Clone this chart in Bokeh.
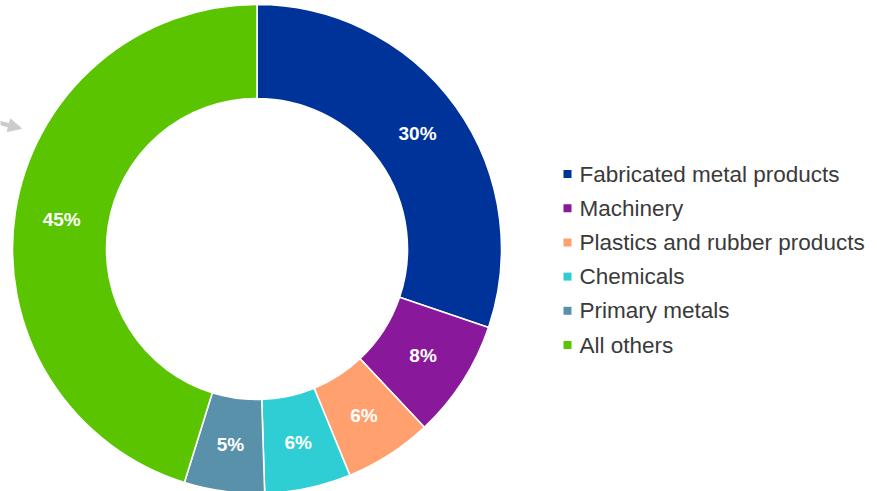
import math
from bokeh.plotting import figure
from bokeh.models import Range1d, ColumnDataSource, Arrow, NormalHead
from bokeh.core.properties import value
from bokeh.embed import file_html
from bokeh.resources import INLINE

categories = ["Fabricated metal products", "Machinery", "Plastics and rubber products",
              "Chemicals", "Primary metals", "All others"]
shares = [30.2, 7.8, 5.8, 5.7, 5.3, 45.2]
labels = ["30%", "8%", "6%", "6%", "5%", "45%"]
colors = ["#003399", "#89189B", "#FFA06E", "#2ECED4", "#5991AA", "#5BC400"]

W, H = 877, 491
p = figure(width=W, height=H, output_backend="svg", toolbar_location=None,
           x_range=Range1d(0, W), y_range=Range1d(0, H), min_border=0)
p.axis.visible = False
p.grid.visible = False
p.outline_line_color = None
p.background_fill_color = "white"

# canvas coords: y measured upward from bottom of canvas
cx, cy = 256.5, H - 248.5
r_in, r_out = 150.5, 244.5

total = sum(shares)
starts, ends, lx, ly = [], [], [], []
cum = 0.0
for s in shares:
    a0 = math.pi / 2 - 2 * math.pi * cum / total
    cum += s
    a1 = math.pi / 2 - 2 * math.pi * cum / total
    starts.append(a0)
    ends.append(a1)
    mid = (a0 + a1) / 2
    rm = (r_in + r_out) / 2
    lx.append(cx + rm * math.cos(mid))
    ly.append(cy + rm * math.sin(mid))

src = ColumnDataSource(dict(start=starts, end=ends, color=colors, lx=lx, ly=ly, label=labels))
p.annular_wedge(x=cx, y=cy, inner_radius=r_in, outer_radius=r_out,
                start_angle="start", end_angle="end", direction="clock",
                fill_color="color", line_color="white", line_width=1.6, source=src)
p.text(x="lx", y="ly", text="label", source=src, text_color="white",
       text_font=value("Liberation Sans"), text_font_style="bold",
       text_font_size="19px", text_align="center", text_baseline="middle")

# legend
leg_x = 567.0
leg_y0 = H - 173.5
step = 34.2
gx = [leg_x] * len(categories)
gy = [leg_y0 - i * step for i in range(len(categories))]
tx = [leg_x + 12 for _ in categories]
lsrc = ColumnDataSource(dict(gx=gx, gy=gy, tx=tx, color=colors, name=categories))
p.scatter(x="gx", y="gy", marker="square", size=8, fill_color="color",
          line_color=None, source=lsrc)
p.text(x="tx", y="gy", text="name", source=lsrc, text_color="#3a3a3a",
       text_font=value("Liberation Sans"), text_font_size="22.5px",
       text_align="left", text_baseline="middle")

# partial grey arrow at left edge
p.add_layout(Arrow(end=NormalHead(size=13, fill_color="#cccccc", line_color="#cccccc"),
                   x_start=-10, y_start=H - 120, x_end=21, y_end=H - 128,
                   line_color="#cccccc", line_width=4.5))

open("out.html", "w").write(file_html(p, INLINE))
